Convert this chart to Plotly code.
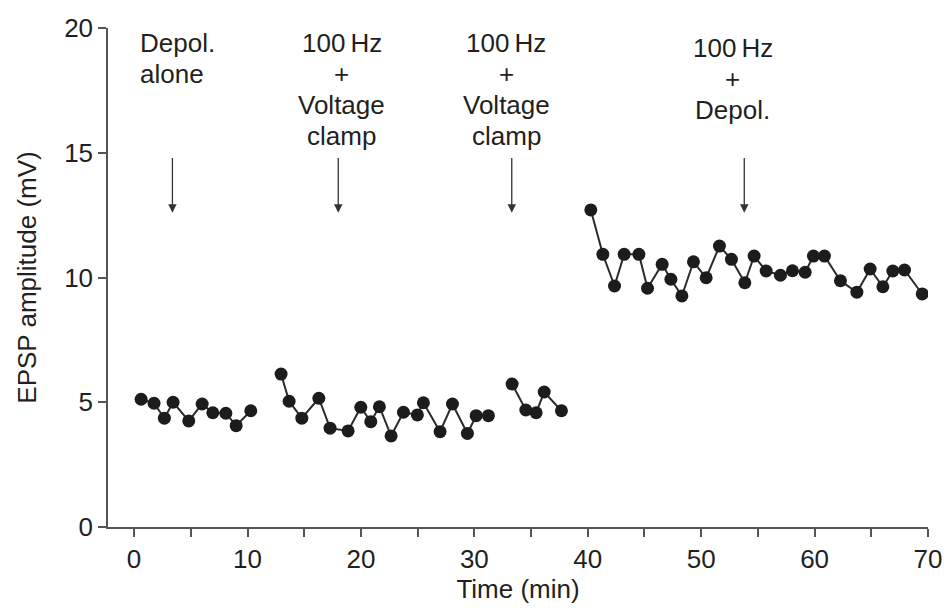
import plotly.graph_objects as go

# EPSP amplitude recordings, grouped by protocol epoch
depol_t = [0.62, 1.76, 2.67, 3.44, 4.82, 6.00, 6.94, 8.09, 9.00, 10.29]
depol_v = [5.12, 4.96, 4.36, 5.00, 4.25, 4.93, 4.58, 4.56, 4.06, 4.66]

vc1_t = [12.96, 13.67, 14.79, 16.29, 17.28, 18.87, 19.99, 20.87, 21.63, 22.66,
         23.75, 24.98, 25.51, 26.98, 28.07, 29.39, 30.16, 31.24]
vc1_v = [6.13, 5.04, 4.36, 5.16, 3.96, 3.85, 4.80, 4.22, 4.82, 3.65,
         4.60, 4.49, 4.98, 3.82, 4.93, 3.75, 4.46, 4.46]

vc2_t = [33.33, 34.54, 35.45, 36.16, 37.68]
vc2_v = [5.73, 4.69, 4.58, 5.41, 4.66]

hz_depol_t = [40.27, 41.33, 42.36, 43.21, 44.51, 45.27, 46.56, 47.33, 48.30, 49.32,
              50.44, 51.61, 52.67, 53.85, 54.67, 55.73, 56.99, 58.05, 59.17, 59.90,
              60.87, 62.28, 63.73, 64.90, 66.02, 66.90, 67.93, 69.49]
hz_depol_v = [12.71, 10.93, 9.66, 10.93, 10.93, 9.57, 10.53, 9.93, 9.26, 10.63,
              9.99, 11.26, 10.73, 9.79, 10.86, 10.26, 10.09, 10.27, 10.21, 10.86,
              10.86, 9.87, 9.41, 10.34, 9.63, 10.26, 10.30, 9.34]

# Protocol labels (one entry per text line) and the times at which each was applied
label_lines = [["Depol.", "alone"],
               ["100\u2009Hz", "+", "Voltage", "clamp"],
               ["100\u2009Hz", "+", "Voltage", "clamp"],
               ["100\u2009Hz", "+", "Depol."]]
label_t = [0.35, 18.3, 32.8, 52.8]
label_top = [20.08, 20.08, 20.08, 19.86]
label_anchor = ["left", "center", "center", "center"]
arrow_t = [3.38, 18.0, 33.3, 53.8]
arrow_tail_v = 14.85
arrow_tip_v = 12.6

x_tickvals = [0, 10, 20, 30, 40, 50, 60, 70]
x_minor_tickvals = [5, 15, 25, 35, 45, 55, 65]
y_tickvals = [0, 5, 10, 15, 20]
x_range = [-2.3, 70]
y_range = [0, 20]

FONT = "Liberation Sans, Arial, Helvetica, sans-serif"
INK = "#231f20"
AXIS = "#555555"
MARK = "#1c1c1c"
AX_SIZE = 26
NOTE_SIZE = 26
LINE_STEP_PX = 31


def to_paper_y(v):
    # labels sit partly above the y range, so place them in paper units
    return (v - y_range[0]) / (y_range[1] - y_range[0])


fig = go.Figure()
for t, v in [(depol_t, depol_v), (vc1_t, vc1_v), (vc2_t, vc2_v), (hz_depol_t, hz_depol_v)]:
    fig.add_trace(go.Scatter(
        x=t, y=v, mode="lines+markers",
        line=dict(color="#2a2a2a", width=2),
        marker=dict(color=MARK, size=13, line=dict(width=0)),
        showlegend=False, hoverinfo="x+y",
    ))

# stacked label lines with a tight, fixed line pitch
for lines, x, y, xa in zip(label_lines, label_t, label_top, label_anchor):
    for i, line in enumerate(lines):
        fig.add_annotation(
            x=x, y=to_paper_y(y), xref="x", yref="paper", text=line, showarrow=False,
            xanchor=xa, yanchor="top", yshift=-LINE_STEP_PX * i,
            font=dict(family=FONT, size=NOTE_SIZE, color=INK),
        )

for x in arrow_t:
    fig.add_annotation(
        x=x, y=arrow_tip_v, ax=x, ay=arrow_tail_v, xref="x", yref="y",
        axref="x", ayref="y", text="", showarrow=True,
        arrowhead=2, arrowsize=1.3, arrowwidth=1.3, arrowcolor="#333333",
    )

fig.update_layout(
    width=944, height=608,
    margin=dict(l=108, r=16, t=28, b=81),
    paper_bgcolor="white", plot_bgcolor="white",
    font=dict(family=FONT, size=AX_SIZE, color=INK),
)
fig.update_xaxes(
    range=x_range, tickvals=x_tickvals, showgrid=False, zeroline=False,
    automargin=False,
    showline=True, linecolor=AXIS, linewidth=1.5,
    ticks="outside", ticklen=8, tickwidth=1.5, tickcolor=AXIS,
    minor=dict(tickvals=x_minor_tickvals, ticks="outside",
               ticklen=8, tickwidth=1.5, tickcolor=AXIS),
    tickfont=dict(family=FONT, size=AX_SIZE, color=INK),
    title=dict(text="Time (min)", font=dict(family=FONT, size=AX_SIZE, color=INK), standoff=6),
)
fig.update_yaxes(
    range=y_range, tickvals=y_tickvals, showgrid=False, zeroline=False,
    automargin=False,
    showline=True, linecolor=AXIS, linewidth=1.5,
    ticks="outside", ticklen=8, tickwidth=1.5, tickcolor=AXIS,
    tickfont=dict(family=FONT, size=AX_SIZE, color=INK),
    title=dict(text="EPSP amplitude (mV)", font=dict(family=FONT, size=AX_SIZE, color=INK), standoff=20),
)

fig.write_html("out.html")
